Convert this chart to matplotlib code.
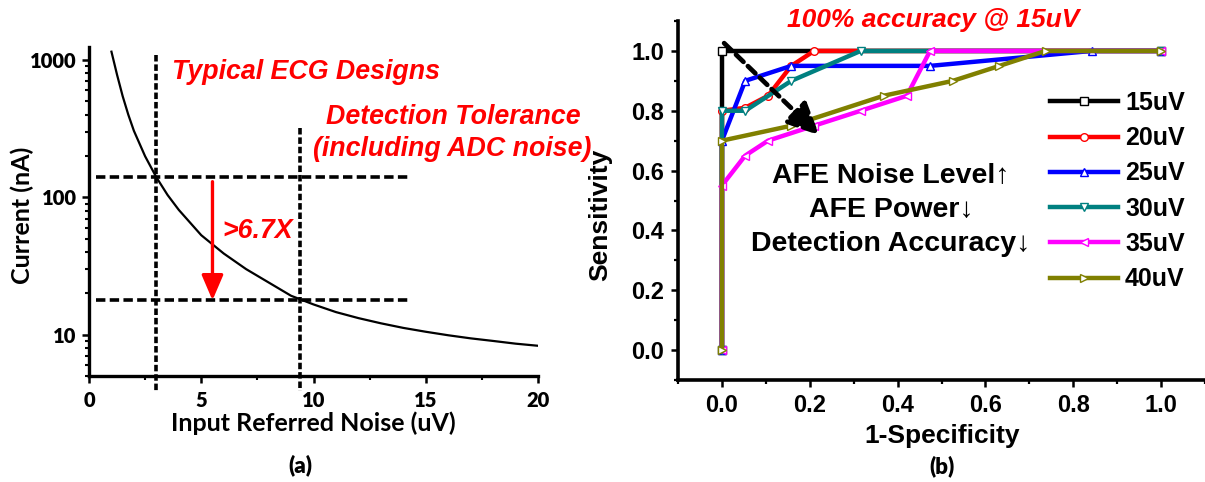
import matplotlib
matplotlib.use("Agg")
import matplotlib.pyplot as plt
from matplotlib.ticker import (MultipleLocator, FixedLocator, LogLocator,
                               NullFormatter, FuncFormatter, FormatStrFormatter)

# ---------------- panel (a): front-end current vs. input referred noise ----------------
noise_uv = [1.0, 1.25, 1.5, 1.75, 2.0, 2.5, 3.0, 3.5, 4.0, 5.0, 6.0, 7.0, 8.0,
            9.0, 10.0, 11.0, 12.0, 13.0, 14.0, 15.0, 16.0, 17.0, 18.0, 19.0, 20.0]
current_na = [1150, 780, 545, 400, 305, 199, 140, 104, 81, 53, 39, 30, 24,
              19.2, 16.6, 14.6, 13.2, 12.1, 11.2, 10.5, 9.9, 9.4, 9.0, 8.6, 8.3]

typical_noise = 3.0        # typical ECG designs
tolerance_noise = 9.4      # detection tolerance incl. ADC noise
typical_current = 140
tolerance_current = 17.8
ratio_label = ">6.7X"

# ---------------- panel (b): ROC curves per AFE noise level ----------------
roc_labels = ["15uV", "20uV", "25uV", "30uV", "35uV", "40uV"]
roc_colors = ["#000000", "#ff0000", "#0000ff", "#008080", "#ff00ff", "#808000"]
roc_markers = ["s", "o", "^", "v", "<", ">"]

fpr_15 = [0.0, 0.0, 1.0]
sens_15 = [0.0, 1.0, 1.0]
fpr_20 = [0.0, 0.0, 0.053, 0.105, 0.158, 0.210, 1.0]
sens_20 = [0.0, 0.80, 0.81, 0.85, 0.95, 1.0, 1.0]
fpr_25 = [0.0, 0.0, 0.053, 0.158, 0.474, 0.842, 1.0]
sens_25 = [0.0, 0.70, 0.90, 0.95, 0.95, 1.0, 1.0]
fpr_30 = [0.0, 0.0, 0.053, 0.158, 0.316, 1.0]
sens_30 = [0.0, 0.80, 0.80, 0.90, 1.0, 1.0]
fpr_35 = [0.0, 0.0, 0.053, 0.105, 0.210, 0.316, 0.421, 0.474, 1.0]
sens_35 = [0.0, 0.55, 0.65, 0.70, 0.75, 0.80, 0.85, 1.0, 1.0]
fpr_40 = [0.0, 0.0, 0.158, 0.368, 0.526, 0.632, 0.737, 1.0]
sens_40 = [0.0, 0.70, 0.75, 0.85, 0.90, 0.95, 1.0, 1.0]

roc_fpr = [fpr_15, fpr_20, fpr_25, fpr_30, fpr_35, fpr_40]
roc_sens = [sens_15, sens_20, sens_25, sens_30, sens_35, sens_40]

# ---------------- figure ----------------
W, H = 1205, 482
plt.rcParams["font.family"] = ["Lato", "DejaVu Sans"]
plt.rcParams["font.weight"] = "bold"
plt.rcParams["axes.labelweight"] = "bold"

fig = plt.figure(figsize=(W / 100, H / 100), dpi=100)


def fx(px):
    return px / W


def fy(py):
    return 1 - py / H


ARIAL = ["Liberation Sans", "DejaVu Sans"]

# ---- panel (a)
ax1 = fig.add_axes([fx(89), fy(376), (538 - 89) / W, (376 - 46.7) / H])
ax1.set_yscale("log")
ax1.set_xlim(0, 20)
ax1.set_ylim(5, 1250)
ax1.plot(noise_uv, current_na, color="black", lw=1.6, zorder=3)

hdash = (0, (2.6, 1.2))
vdash = (0, (1.8, 0.8))
for level in (typical_current, tolerance_current):
    ax1.plot([0.3, 14.2], [level, level], color="black", lw=2.6, ls=hdash,
             zorder=2)
ax1.plot([typical_noise, typical_noise], [1090, 3.9], color="black", lw=2.6,
         ls=vdash, clip_on=False, zorder=2)
ax1.plot([tolerance_noise, tolerance_noise], [320, 3.9], color="black", lw=2.6,
         ls=vdash, clip_on=False, zorder=2)

ax1.annotate("", xy=(5.5, tolerance_current), xytext=(5.5, 130),
             arrowprops=dict(arrowstyle="-|>,head_length=0.7,head_width=0.3",
                             color="#ff0000", lw=2.4, mutation_scale=22,
                             shrinkA=0, shrinkB=0), zorder=4)

for side in ("top", "right"):
    ax1.spines[side].set_visible(False)
for side in ("left", "bottom"):
    ax1.spines[side].set_linewidth(2.4)

ax1.xaxis.set_major_locator(MultipleLocator(5))
ax1.xaxis.set_minor_locator(MultipleLocator(2.5))
ax1.yaxis.set_major_locator(FixedLocator([10, 100, 1000]))
ax1.yaxis.set_major_formatter(FuncFormatter(lambda v, p: f"{v:g}"))
ax1.yaxis.set_minor_locator(LogLocator(base=10, subs=range(2, 10)))
ax1.yaxis.set_minor_formatter(NullFormatter())
ax1.tick_params(which="major", direction="out", length=5, width=1.8,
                labelsize=14.5, pad=4)
ax1.tick_params(which="minor", direction="out", length=3, width=1.5)
ax1.tick_params(axis="x", which="major", pad=6)
for lab in ax1.get_xticklabels() + ax1.get_yticklabels():
    lab.set_fontweight("heavy")

ax1.set_xlabel("Input Referred Noise (uV)", fontsize=18, fontweight="bold")
ax1.xaxis.set_label_coords((313 - 89) / (538 - 89), (376 - 423) / (376 - 46.7))
ax1.xaxis.label.set_va("center")
ax1.set_ylabel("Current (nA)", fontsize=18, fontweight="bold")
ax1.yaxis.set_label_coords((22 - 89) / (538 - 89), (376 - 215) / (376 - 46.7))
ax1.yaxis.label.set_va("center")

red_style = dict(color="#ff0000", family=ARIAL, weight="bold", style="italic",
                 fontsize=19.3, va="center")
fig.text(fx(172), fy(72), "Typical ECG Designs", ha="left", **red_style)
fig.text(fx(453), fy(117), "Detection Tolerance", ha="center", **red_style)
fig.text(fx(452), fy(149), "(including ADC noise)", ha="center", **red_style)
fig.text(fx(222), fy(231), ratio_label, ha="left", **red_style)
fig.text(fx(300), fy(465), "(a)", fontsize=16, fontweight="heavy",
         ha="center", va="center")

# ---- panel (b)
ax2 = fig.add_axes([fx(678), fy(380), (1205 - 678) / W, (380 - 21) / H])
ax2.set_xlim(-0.1, 1.1)
ax2.set_ylim(-0.1, 1.1)

for fpr, sens, lab, col, mk in zip(roc_fpr, roc_sens, roc_labels, roc_colors,
                                   roc_markers):
    ax2.plot(fpr, sens, color=col, lw=3.2, marker=mk, ms=5.5, mfc="white",
             mec=col, mew=1.0, label=lab, clip_on=False)

ax2.annotate("", xy=(0.222, 0.718), xytext=(0.005, 1.026),
             arrowprops=dict(arrowstyle="-|>,head_length=0.9,head_width=0.42",
                             color="black", lw=3.4, ls=(0, (2.2, 1.3)),
                             mutation_scale=22, shrinkA=0, shrinkB=0),
             zorder=5)

for side in ("top", "right"):
    ax2.spines[side].set_visible(False)
for side in ("left", "bottom"):
    ax2.spines[side].set_linewidth(2.6)

ax2.xaxis.set_major_locator(MultipleLocator(0.2))
ax2.xaxis.set_minor_locator(MultipleLocator(0.1))
ax2.yaxis.set_major_locator(MultipleLocator(0.2))
ax2.yaxis.set_minor_locator(MultipleLocator(0.1))
ax2.xaxis.set_major_formatter(FormatStrFormatter("%.1f"))
ax2.yaxis.set_major_formatter(FormatStrFormatter("%.1f"))
ax2.tick_params(which="major", direction="out", length=5, width=1.8,
                labelsize=17, labelfontfamily="Liberation Sans", pad=5)
ax2.tick_params(which="minor", direction="out", length=3, width=1.6)

ax2.set_xlabel("1-Specificity", fontsize=19, family=ARIAL, fontweight="bold")
ax2.xaxis.set_label_coords((942 - 678) / (1205 - 678), (380 - 436) / (380 - 21))
ax2.xaxis.label.set_va("center")
ax2.set_ylabel("Sensitivity", fontsize=19, family=ARIAL, fontweight="bold")
ax2.yaxis.set_label_coords((600 - 678) / (1205 - 678), (380 - 215) / (380 - 21))
ax2.yaxis.label.set_va("center")

ax2.legend(loc="upper left", bbox_to_anchor=(fx(1050), fy(91)),
           bbox_transform=fig.transFigure, frameon=False,
           prop=dict(family="Liberation Sans", weight="bold", size=18),
           handlelength=2.7, handletextpad=0.3, labelspacing=0.45,
           borderpad=0, borderaxespad=0, numpoints=1)

fig.text(fx(933), fy(20), "100% accuracy @ 15uV", color="#ff0000",
         family=ARIAL, weight="bold", style="italic", fontsize=19,
         ha="center", va="center")
fig.text(fx(891), fy(210), "AFE Noise Level\u2191\nAFE Power\u2193\nDetection Accuracy\u2193",
         family=ARIAL, weight="bold", fontsize=20.5, ha="center", va="center",
         multialignment="center", linespacing=1.38)
fig.text(fx(942), fy(466), "(b)", fontsize=16, fontweight="heavy",
         ha="center", va="center")

fig.savefig("out.png", dpi=100)
